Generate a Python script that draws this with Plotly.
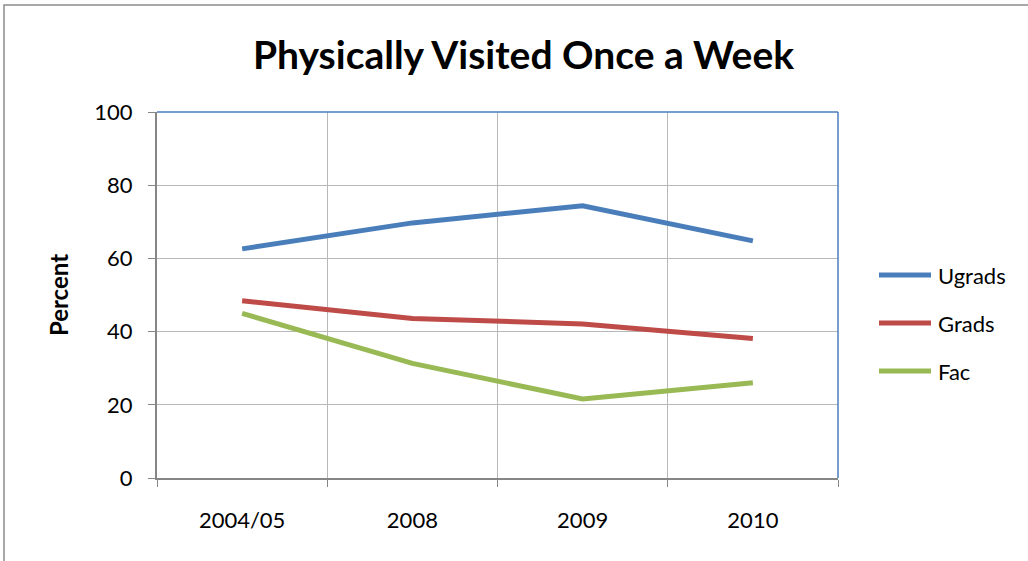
import plotly.graph_objects as go

categories = ["2004/05", "2008", "2009", "2010"]
ugrads = [62.6, 69.7, 74.4, 64.8]
grads = [48.4, 43.6, 42.1, 38.1]
fac = [45.0, 31.3, 21.6, 26.0]
series_names = ["Ugrads", "Grads", "Fac"]
colors = ["#4A7EBB", "#BE4B48", "#98B954"]
y_ticks = [0, 20, 40, 60, 80, 100]

W, H = 1028, 561
L, R, T, B = 157, 838, 112, 478
pw, ph = R - L, B - T

def px_x(p):
    return (p - L) / pw

def px_y(p):
    return (B - p) / ph

fig = go.Figure()
for i, (name, vals) in enumerate(zip(series_names, [ugrads, grads, fac])):
    fig.add_trace(go.Scatter(
        x=categories, y=vals, mode="lines", name=name,
        line=dict(color=colors[i], width=5),
        showlegend=False,
    ))

font_family = "Lato, 'Open Sans', sans-serif"

shapes = [
    dict(type="line", xref="paper", yref="paper", x0=0, x1=1, y0=1, y1=1,
         line=dict(color="#4A7EBB", width=1.5)),
    dict(type="line", xref="paper", yref="paper", x0=1, x1=1, y0=0, y1=1,
         line=dict(color="#4A7EBB", width=1.5)),
    dict(type="rect", xref="paper", yref="paper",
         x0=px_x(4), x1=px_x(1040), y0=px_y(5), y1=px_y(570),
         line=dict(color="#8C8C8C", width=1.5), layer="below"),
]
annotations = []
legend_y = [275, 323, 371]
for i, name in enumerate(series_names):
    shapes.append(dict(type="line", xref="paper", yref="paper",
                       x0=px_x(879), x1=px_x(931), y0=px_y(legend_y[i]), y1=px_y(legend_y[i]),
                       line=dict(color=colors[i], width=5)))
    annotations.append(dict(text=name, xref="paper", yref="paper",
                            x=px_x(936), y=px_y(legend_y[i]), xanchor="left", yanchor="middle",
                            showarrow=False, font=dict(size=22, color="black")))

fig.update_layout(
    width=W, height=H,
    margin=dict(l=L, r=W - R, t=T, b=H - B),
    paper_bgcolor="white", plot_bgcolor="white",
    title=dict(text="<b>Physically Visited Once a Week</b>", x=(251 + 796) / 2 / W, xref="container",
               xanchor="center", y=1 - 55 / H, yanchor="middle",
               font=dict(family=font_family, size=39, color="black")),
    font=dict(family=font_family, size=22, color="black"),
    showlegend=False,
    xaxis=dict(type="category", tickson="boundaries", showgrid=True,
               gridcolor="#B8B8B8", gridwidth=1.3,
               showline=True, linecolor="#868686", linewidth=2,
               ticks="outside", ticklen=7, tickcolor="#868686",
               ticklabelstandoff=22, range=[-0.5, 3.5],
               tickfont=dict(size=22), zeroline=False),
    yaxis=dict(range=[0, 100], tickvals=y_ticks, showgrid=True,
               gridcolor="#B8B8B8", gridwidth=1.3,
               showline=True, linecolor="#868686", linewidth=2,
               ticks="outside", ticklen=7, tickcolor="#868686",
               ticklabelstandoff=11, tickfont=dict(size=22), zeroline=False,
               title=dict(text="<b>Percent</b>", font=dict(size=24), standoff=19)),
    shapes=shapes,
    annotations=annotations,
)

fig.write_html("out.html", config={"displayModeBar": False},
               post_script="document.body.style.margin='0px';document.body.style.overflow='hidden';")
